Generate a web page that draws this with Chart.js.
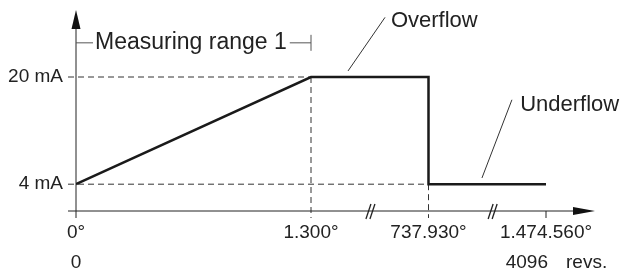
<!DOCTYPE html>
<html lang="en">
<head>
    <meta charset="UTF-8">
    <title>Measuring range 1</title>
    <script src="https://cdn.jsdelivr.net/npm/chart.js"></script>
    <style>
        body { margin: 0; background: #fff; }
        #box { width: 624px; height: 272px; }
    </style>
</head>
<body>
    <div id="box"><canvas id="grafico" width="624" height="272"></canvas></div>

    <script>
        // x axis is broken, so ticks sit on evenly spaced positions
        const xPos = [0, 2, 3, 4];
        const xLabels = ['0°', '1.300°', '737.930°', '1.474.560°'];
        const revLabels = ['0', '', '', '4096'];
        const yTicks = [4, 20];
        const yLabels = ['4 mA', '20 mA'];
        // output signal
        const outX = [0, 2, 3, 3, 4];
        const outY = [4, 20, 20, 4, 4];
        const breaks = [2.51, 3.55];

        const FONT = '"Liberation Sans", Arial, sans-serif';

        function line(ctx, x1, y1, x2, y2) {
            ctx.beginPath();
            ctx.moveTo(x1, y1);
            ctx.lineTo(x2, y2);
            ctx.stroke();
        }

        const axesPlugin = {
            id: 'axes',
            beforeDatasetsDraw(chart) {
                const ctx = chart.ctx;
                const x = chart.scales.x, y = chart.scales.y;
                const x0 = x.getPixelForValue(0), y0 = y.getPixelForValue(0);
                const xEnd = x.right, yTop = y.top;
                ctx.save();

                // dashed guides
                ctx.strokeStyle = '#333';
                ctx.lineWidth = 1;
                ctx.setLineDash([6, 4]);
                line(ctx, x0 - 8, y.getPixelForValue(20), x.getPixelForValue(2), y.getPixelForValue(20));
                line(ctx, x0 - 8, y.getPixelForValue(4), x.getPixelForValue(3), y.getPixelForValue(4));
                line(ctx, x.getPixelForValue(2), y.getPixelForValue(20), x.getPixelForValue(2), y0 + 7);
                line(ctx, x.getPixelForValue(3), y.getPixelForValue(4), x.getPixelForValue(3), y0 + 7);
                ctx.setLineDash([]);

                // axes
                ctx.strokeStyle = '#222';
                line(ctx, x0, y0 + 7, x0, yTop + 12);
                line(ctx, x0 - 8, y0, xEnd - 16, y0);
                ctx.fillStyle = '#111';
                ctx.beginPath();
                ctx.moveTo(x0, yTop);
                ctx.lineTo(x0 - 4.5, yTop + 19);
                ctx.lineTo(x0 + 4.5, yTop + 19);
                ctx.closePath();
                ctx.fill();
                ctx.beginPath();
                ctx.moveTo(xEnd, y0);
                ctx.lineTo(xEnd - 22, y0 - 4);
                ctx.lineTo(xEnd - 22, y0 + 4);
                ctx.closePath();
                ctx.fill();
                // tick at the last position
                line(ctx, x.getPixelForValue(4), y0, x.getPixelForValue(4), y0 + 7);

                // axis breaks
                ctx.lineWidth = 1.3;
                breaks.forEach(b => {
                    const bx = x.getPixelForValue(b);
                    line(ctx, bx - 5, y0 + 8, bx, y0 - 7);
                    line(ctx, bx - 1, y0 + 8, bx + 4, y0 - 7);
                });
                ctx.lineWidth = 1;

                // labels
                ctx.fillStyle = '#222';
                ctx.font = '19px ' + FONT;
                ctx.textBaseline = 'middle';
                ctx.textAlign = 'right';
                yTicks.forEach((v, i) => ctx.fillText(yLabels[i], x0 - 13, y.getPixelForValue(v)));
                ctx.textAlign = 'center';
                xPos.forEach((v, i) => ctx.fillText(xLabels[i], x.getPixelForValue(v), y0 + 22));
                ctx.fillText(revLabels[0], x.getPixelForValue(xPos[0]), y0 + 52);
                ctx.textAlign = 'right';
                ctx.fillText(revLabels[3], x.getPixelForValue(xPos[3]) + 2, y0 + 52);
                ctx.textAlign = 'left';
                ctx.fillText('revs.', x.getPixelForValue(xPos[3]) + 20, y0 + 52);

                // measuring range bracket
                const by = y.getPixelForValue(25.1);
                const x2 = x.getPixelForValue(2);
                ctx.font = '23px ' + FONT;
                ctx.strokeStyle = '#555';
                line(ctx, x0, by, x0 + 17, by);
                ctx.fillText('Measuring range 1', x0 + 19, by);
                const w = ctx.measureText('Measuring range 1').width;
                line(ctx, x0 + 22 + w, by, x2, by);
                line(ctx, x2, by - 8, x2, by + 8);

                // callouts
                ctx.font = '22px ' + FONT;
                ctx.strokeStyle = '#333';
                line(ctx, x.getPixelForValue(2.315), y.getPixelForValue(20.9), x.getPixelForValue(2.63), y.getPixelForValue(28.9));
                ctx.fillText('Overflow', x.getPixelForValue(2.68), y.getPixelForValue(28.4));
                line(ctx, x.getPixelForValue(3.455), y.getPixelForValue(4.93), x.getPixelForValue(3.71), y.getPixelForValue(16.6));
                ctx.fillText('Underflow', x.getPixelForValue(3.78), y.getPixelForValue(15.85));

                ctx.restore();
            }
        };

        const ctx = document.getElementById('grafico').getContext('2d');
        const grafico = new Chart(ctx, {
            type: 'scatter',
            data: {
                datasets: [{
                    data: outX.map((v, i) => ({ x: v, y: outY[i] })),
                    showLine: true,
                    borderColor: '#1a1a1a',
                    borderWidth: 2.5,
                    pointRadius: 0,
                    tension: 0,
                    borderJoinStyle: 'miter'
                }]
            },
            options: {
                responsive: false,
                animation: false,
                layout: { padding: { left: 76, right: 29, top: 10, bottom: 61 } },
                plugins: { legend: { display: false }, tooltip: { enabled: false } },
                scales: {
                    x: { type: 'linear', min: 0, max: 4.417, display: false },
                    y: { min: 0, max: 30, display: false }
                }
            },
            plugins: [axesPlugin]
        });
    </script>
</body>
</html>
